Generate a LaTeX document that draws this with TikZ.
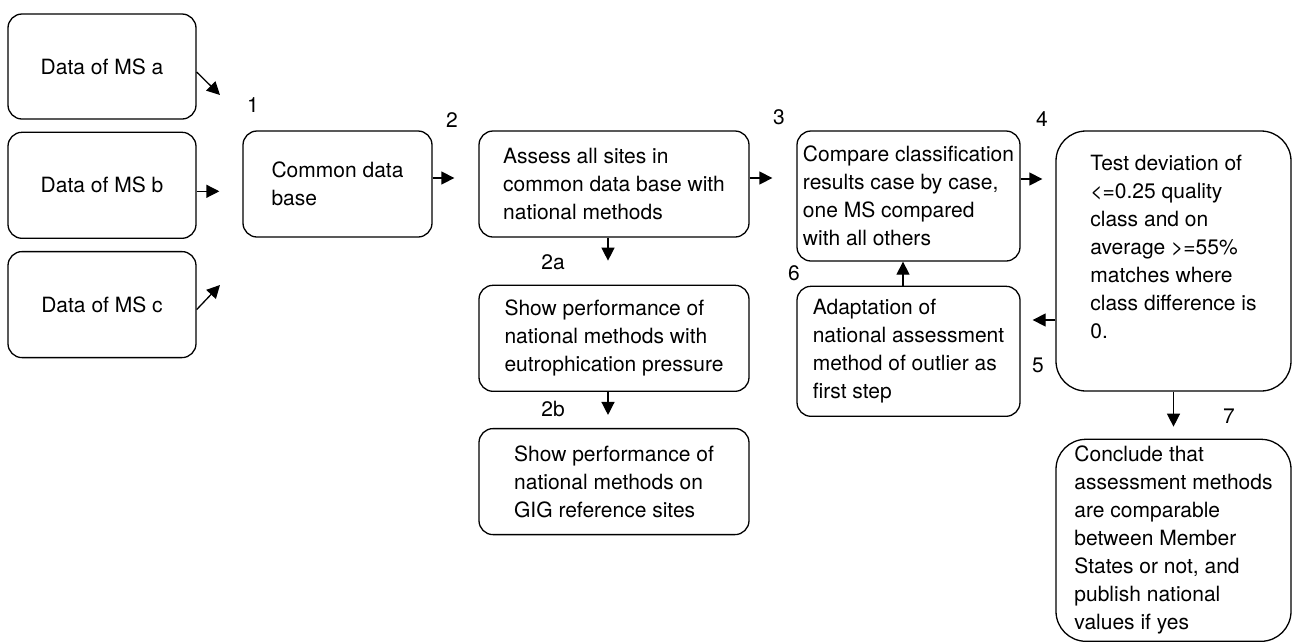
\documentclass[tikz,border=0pt]{standalone}
\usepackage{fontspec}
\setmainfont{TeX Gyre Heros}
\usetikzlibrary{arrows.meta,positioning}
\tikzset{
    stepbox/.style={draw,rounded corners=14pt,line width=1.3pt,align=left,inner sep=0pt,font=\fontsize{21}{28}\selectfont},
    bigbox/.style={stepbox,rounded corners=30pt},
    num/.style={inner sep=0pt,font=\fontsize{21}{28}\selectfont},
    arr/.style={-{Triangle[length=13pt,width=13pt]},line width=1.3pt}
}

\begin{document}
\begin{tikzpicture}[x=1pt,y=-1pt]
                \useasboundingbox (0,0) rectangle (1299,641);

                \node[stepbox,minimum width=188pt,minimum height=105pt] (msa) at (102,66.5) {Data of MS a};
                \node[stepbox,minimum width=188pt,minimum height=106pt,below=12pt of msa] (msb) {Data of MS b};
                \node[stepbox,minimum width=188pt,minimum height=106pt,below=12pt of msb] (msc) {Data of MS c};

                \node[stepbox,minimum width=189pt,minimum height=106pt] (common) at (337.5,184) {Common data\\base};
                \node[stepbox,minimum width=270pt,minimum height=106pt] (assess) at (614,184) {Assess all sites in\\common data base with\\national methods};
                \node[stepbox,minimum width=270pt,minimum height=106pt,below=47pt of assess] (show1) {Show performance of\\national methods with\\eutrophication pressure};
                \node[stepbox,minimum width=270pt,minimum height=106pt,below=36pt of show1] (show2) {Show performance of\\national methods on\\GIG reference sites};

                \node[stepbox,minimum width=223pt,minimum height=130pt] (compare) at (908.5,196) {Compare classification\\results case by case,\\one MS compared\\with all others};
                \node[stepbox,minimum width=223pt,minimum height=130pt,below=24pt of compare] (adapt) {Adaptation of\\national assessment\\method of outlier as\\first step};

                \node[bigbox,minimum width=235pt,minimum height=260pt] (test) at (1173.5,261) {Test deviation of\\<=0.25 quality\\class and on\\average >=55\%\\matches where\\class difference is\\0.\\ \mbox{}};
                \node[bigbox,minimum width=235pt,minimum height=202pt,below=47pt of test] (conclude) {Conclude that\\assessment methods\\are comparable\\between Member\\States or not, and\\publish national\\values if yes};

                \node[num] (n1) at (253,105) {1};
                \node[num] (n2) at (452,120) {2};
                \node[num] (n2a) at (553,262) {2a};
                \node[num] (n2b) at (553,409) {2b};
                \node[num] (n3) at (779,117) {3};
                \node[num] (n4) at (1042,119) {4};
                \node[num] (n5) at (1038,365) {5};
                \node[num] (n6) at (794,273) {6};
                \node[num] (n7) at (1229,416) {7};

                \coordinate (ina) at (220,95);
                \coordinate (inc) at (220,285);

                \draw[arr] ([yshift=-5.5pt]msa.east) -- (ina);
                \draw[arr,shorten >=23pt] ([yshift=-6pt]msb.east) -- ([yshift=-6pt]msb.east -| common.west);
                \draw[arr] ([yshift=-5pt]msc.east) -- (inc);
                \draw[arr,shorten >=24pt] ([yshift=6pt]common.east) -- ([yshift=6pt]common.east -| assess.west);
                \draw[arr,shorten >=24pt] ([yshift=6pt]assess.east) -- ([yshift=6pt]assess.east -| compare.west);
                \draw[arr,shorten >=24pt] ([xshift=-6pt]assess.south) -- ([xshift=-6pt]show1.north);
                \draw[arr,shorten >=13pt] ([xshift=-6pt]show1.south) -- ([xshift=-6pt]show2.north);
                \draw[arr,shorten >=13pt] ([yshift=17pt]compare.east) -- ([yshift=17pt]compare.east -| test.west);
                \draw[arr] ([xshift=-5.5pt]adapt.north) -- ([xshift=-5.5pt]compare.south);
                \draw[arr,shorten >=12pt] ([yshift=-59pt]test.west) -- ([yshift=-59pt]test.west -| adapt.east);
                \draw[arr,shorten >=12pt] (test.south) -- (conclude.north);
\end{tikzpicture}
\end{document}
